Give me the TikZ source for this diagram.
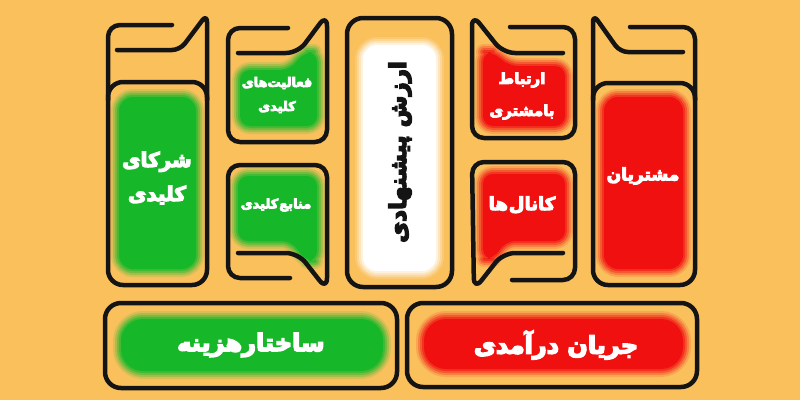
\documentclass[tikz,border=0pt]{standalone}
\usepackage{fontspec}
\TeXXeTstate=1
\newfontfamily\fa[Script=Arabic, BoldFeatures={FakeBold=6}]{DejaVu Sans}
\definecolor{bgc}{HTML}{FAC05C}
\definecolor{gr}{HTML}{16B82A}
\definecolor{rd}{HTML}{F01010}
\definecolor{ln}{HTML}{141414}
\newcommand\blob[3][12pt]{%
  \foreach \w/\p in {16/15,12/35,8/58,4/80}{\draw[line width=\w pt, draw=#2!\p!bgc, rounded corners=#1, line join=round] #3;}%
  \fill[#2, rounded corners=#1] #3;}
\tikzset{
  bmcline/.style={draw=ln, line width=4.5pt, rounded corners=#1, line cap=round, line join=round},
  bmcline/.default=12pt,
  lbl/.style={text=white, align=center, inner sep=0pt},
}
\newcommand\fsz[2]{\fa\bfseries\fontsize{#1}{#2}\selectfont}
\begin{document}
\begin{tikzpicture}[x=1pt,y=-1pt]
\fill[bgc] (0,0) rectangle (800,400);
\useasboundingbox (0,0) rectangle (800,400);
% ---------- coloured fills ----------
\blob[14pt]{gr}{(119,97) rectangle (196,269)}
\blob[10pt]{gr}{(240,70) -- (290,70) -- (304,52) -- (317,52) -- (317,126) -- (240,126) -- cycle}
\blob[10pt]{gr}{(238,176) -- (317,176) -- (317,261) -- (305,261) -- (292,241) -- (238,241) -- cycle}
\blob[14pt]{white}{(363,45) rectangle (436,271)}
\blob[10pt]{rd}{(483,52) -- (494,52) -- (508,66) -- (565,66) -- (565,126) -- (483,126) -- cycle}
\blob[10pt]{rd}{(483,174) -- (565,174) -- (565,241) -- (505,241) -- (494,259) -- (483,259) -- cycle}
\blob[14pt]{rd}{(604,97) rectangle (683,269)}
\blob[22pt]{gr}{(121,319) rectangle (383,371)}
\blob[22pt]{rd}{(424,319) rectangle (683,369)}
% ---------- outlines ----------
% key partners
\draw[bmcline] (172,25) -- (108,25) -- (108,100);
\draw[bmcline=8pt] (117,50) -- (180,50) -- (207,14) -- (207,100);
\draw[bmcline=15pt] (108,82) rectangle (207,285);
% key activities
\draw[bmcline] (288,28) -- (228,28) -- (228,142) -- (327,142) -- (327,14) -- (298,53) -- (238,53);
% key resources
\draw[bmcline] (290,278) -- (228,278) -- (228,165) -- (327,165) -- (327,290) -- (298,253) -- (238,253);
% value proposition
\draw[bmcline=16pt] (347,18) rectangle (452,287);
% customer relationships
\draw[bmcline] (510,27) -- (575,27) -- (575,138) -- (472,138) -- (472,14) -- (503,53) -- (563,53);
% channels
\draw[bmcline] (512,280) -- (575,280) -- (575,162) -- (472,162) -- (474,290) -- (503,253) -- (563,253);
% customer segments
\draw[bmcline] (630,27) -- (695,27) -- (695,100);
\draw[bmcline=8pt] (683,52) -- (620,52) -- (593,14) -- (593,100);
\draw[bmcline=15pt] (593,83) rectangle (695,285);
% bottom row
\draw[bmcline=16pt] (105,303) rectangle (397,388);
\draw[bmcline=16pt] (407,303) rectangle (697,387);
% ---------- labels ----------
\node[lbl, font=\fsz{20}{34}] (kp) at (157,178) {\beginR شرکای\endR\\\beginR کلیدی\endR};
\node[lbl, font=\fsz{13}{24}] (ka) at (277,95) {\beginR فعالیت‌های\endR\\\beginR کلیدی\endR};
\node[lbl, font=\fsz{13}{20}] (kr) at (276,205) {\beginR منابع\hspace{1pt}کلیدی\endR};
\node[lbl, text=ln, font=\fsz{23}{28}, rotate=90] (vp) at (400,152) {\beginR ارزش پیشنهادی\endR};
\node[lbl, font=\fsz{15}{32}] (cr) at (522,96) {\beginR ارتباط\endR\\\beginR بامشتری\endR};
\node[lbl, font=\fsz{18}{22}] (ch) at (522,205) {\beginR کانال\hspace{1pt}ها\endR};
\node[lbl, font=\fsz{17}{22}] (cs) at (643,176) {\beginR مشتریان\endR};
\node[lbl, font=\fsz{24}{30}] (cost) at (251,345) {\beginR ساختارهزینه\endR};
\node[lbl, font=\fsz{24}{30}] (rev) at (556,345) {\beginR جریان درآمدی\endR};
\end{tikzpicture}
\end{document}
